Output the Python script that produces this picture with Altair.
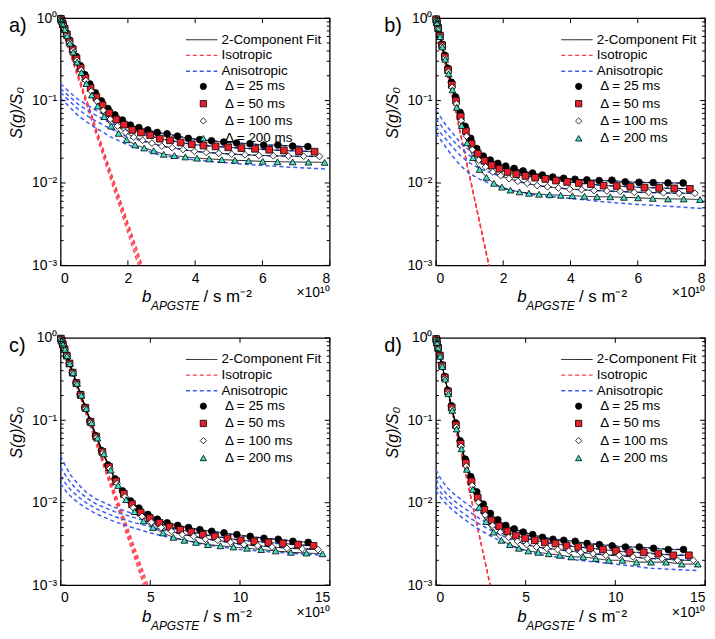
import altair as alt
import pandas as pd

FONT = "Liberation Sans"
RED = "#ff3a4a"
BLUE = "#3a5cf5"
W, H = 271, 249

DELTAS = [25, 50, 100, 200]
DLABELS = ["Δ = 25 ms", "Δ = 50 ms", "Δ = 100 ms", "Δ = 200 ms"]
KINDS = ["2-Component Fit", "Isotropic", "Anisotropic"]
FILLS = ["black", "#e8202a", "white", "#40e0c8"]
SHAPES = ["circle", "square", "diamond", "triangle-up"]

# b values (x 1e10 s m^-2), panels a/b
B_AB_25 = [0.007, 0.029, 0.065, 0.115, 0.179, 0.258, 0.352, 0.459, 0.581, 0.718, 0.868, 1.034, 1.213, 1.407, 1.615, 1.838, 2.074, 2.326, 2.591, 2.871, 3.165, 3.474, 3.797, 4.134, 4.486, 4.852, 5.233, 5.627, 6.036, 6.460, 6.898, 7.350]
B_AB_50 = [0.007, 0.030, 0.066, 0.118, 0.184, 0.265, 0.361, 0.472, 0.597, 0.737, 0.892, 1.062, 1.246, 1.445, 1.659, 1.888, 2.131, 2.389, 2.662, 2.949, 3.252, 3.569, 3.900, 4.247, 4.608, 4.984, 5.375, 5.781, 6.201, 6.636, 7.086, 7.550]
B_AB_100 = [0.008, 0.030, 0.068, 0.120, 0.188, 0.271, 0.369, 0.481, 0.609, 0.752, 0.910, 1.083, 1.271, 1.474, 1.692, 1.925, 2.173, 2.436, 2.715, 3.008, 3.316, 3.640, 3.978, 4.331, 4.700, 5.083, 5.482, 5.895, 6.324, 6.768, 7.226, 7.700]
B_AB_200 = [0.008, 0.031, 0.069, 0.123, 0.192, 0.276, 0.376, 0.491, 0.621, 0.767, 0.928, 1.104, 1.296, 1.503, 1.725, 1.963, 2.216, 2.484, 2.767, 3.066, 3.381, 3.710, 4.055, 4.416, 4.791, 5.182, 5.589, 6.010, 6.447, 6.899, 7.367, 7.850]
# panels c/d
B_CD_25 = [0.013, 0.054, 0.121, 0.216, 0.337, 0.485, 0.660, 0.863, 1.092, 1.348, 1.631, 1.941, 2.278, 2.641, 3.032, 3.450, 3.895, 4.366, 4.865, 5.391, 5.943, 6.523, 7.129, 7.763, 8.423, 9.110, 9.824, 10.566, 11.334, 12.129, 12.951, 13.800]
B_CD_50 = [0.014, 0.055, 0.124, 0.220, 0.344, 0.496, 0.675, 0.881, 1.115, 1.377, 1.666, 1.983, 2.327, 2.699, 3.098, 3.525, 3.979, 4.461, 4.971, 5.508, 6.072, 6.665, 7.284, 7.931, 8.606, 9.308, 10.038, 10.795, 11.580, 12.393, 13.233, 14.100]
B_CD_100 = [0.014, 0.056, 0.126, 0.224, 0.350, 0.505, 0.687, 0.897, 1.135, 1.401, 1.696, 2.018, 2.368, 2.747, 3.153, 3.588, 4.050, 4.540, 5.059, 5.606, 6.180, 6.783, 7.413, 8.072, 8.759, 9.473, 10.216, 10.987, 11.786, 12.612, 13.467, 14.350]
B_CD_200 = [0.014, 0.057, 0.128, 0.228, 0.356, 0.513, 0.699, 0.913, 1.155, 1.426, 1.725, 2.053, 2.410, 2.795, 3.208, 3.650, 4.121, 4.620, 5.147, 5.703, 6.288, 6.901, 7.542, 8.213, 8.911, 9.638, 10.394, 11.178, 11.991, 12.832, 13.702, 14.600]

# S(g)/S0 measured points
S_A_25 = [0.993, 0.941, 0.861, 0.762, 0.654, 0.543, 0.436, 0.343, 0.266, 0.206, 0.159, 0.124, 0.099, 0.080, 0.067, 0.058, 0.0505, 0.047, 0.044, 0.041, 0.0395, 0.037, 0.0348, 0.0336, 0.0325, 0.0314, 0.0305, 0.0300, 0.0288, 0.0289, 0.028, 0.0277]
S_A_50 = [0.981, 0.928, 0.847, 0.746, 0.635, 0.523, 0.418, 0.324, 0.249, 0.189, 0.142, 0.110, 0.088, 0.071, 0.059, 0.051, 0.044, 0.041, 0.038, 0.0345, 0.033, 0.031, 0.0295, 0.0285, 0.0278, 0.0271, 0.0265, 0.026, 0.0253, 0.0248, 0.0244, 0.024]
S_A_100 = [0.980, 0.926, 0.842, 0.738, 0.624, 0.509, 0.403, 0.308, 0.234, 0.175, 0.130, 0.098, 0.076, 0.0595, 0.049, 0.041, 0.036, 0.033, 0.0304, 0.028, 0.0268, 0.0255, 0.0242, 0.0235, 0.0229, 0.0224, 0.022, 0.0216, 0.0214, 0.0212, 0.0211, 0.021]
S_A_200 = [0.980, 0.923, 0.836, 0.729, 0.612, 0.496, 0.387, 0.293, 0.219, 0.161, 0.117, 0.086, 0.064, 0.049, 0.040, 0.0334, 0.029, 0.0266, 0.0246, 0.0223, 0.0215, 0.0207, 0.0200, 0.0196, 0.0192, 0.0189, 0.0186, 0.0183, 0.0181, 0.0180, 0.0179, 0.0178]

S_B_25 = [0.971, 0.888, 0.767, 0.625, 0.484, 0.355, 0.247, 0.167, 0.111, 0.0717, 0.0487, 0.0348, 0.0262, 0.0212, 0.019, 0.0173, 0.0160, 0.0150, 0.0140, 0.0132, 0.0125, 0.0118, 0.0114, 0.0111, 0.0109, 0.0107, 0.0108, 0.0103, 0.0102, 0.0101, 0.0100, 0.0100]
S_B_50 = [0.970, 0.885, 0.760, 0.614, 0.470, 0.339, 0.234, 0.155, 0.100, 0.0643, 0.0427, 0.0300, 0.0227, 0.0186, 0.0164, 0.0149, 0.0136, 0.0128, 0.0122, 0.0116, 0.0112, 0.0107, 0.0103, 0.0100, 0.0097, 0.0093, 0.0092, 0.0090, 0.0088, 0.0087, 0.0086, 0.0085]
S_B_100 = [0.969, 0.882, 0.754, 0.606, 0.459, 0.328, 0.223, 0.145, 0.0915, 0.0571, 0.0369, 0.0254, 0.0190, 0.0157, 0.0136, 0.0123, 0.0113, 0.0105, 0.0099, 0.0093, 0.0090, 0.0087, 0.0084, 0.0083, 0.0081, 0.0080, 0.0079, 0.0077, 0.0077, 0.0076, 0.0075, 0.0075]
S_B_200 = [0.968, 0.879, 0.748, 0.597, 0.448, 0.317, 0.212, 0.135, 0.0829, 0.0499, 0.0307, 0.0203, 0.0146, 0.0117, 0.0099, 0.0089, 0.0082, 0.0078, 0.0075, 0.0073, 0.0072, 0.0071, 0.0070, 0.0069, 0.0068, 0.0068, 0.0067, 0.0066, 0.0065, 0.0064, 0.0064, 0.0063]

S_C_25 = [0.980, 0.924, 0.837, 0.729, 0.610, 0.492, 0.381, 0.285, 0.206, 0.144, 0.0979, 0.0651, 0.0430, 0.0287, 0.0194, 0.0139, 0.0105, 0.0086, 0.0072, 0.0063, 0.0057, 0.0053, 0.0050, 0.0047, 0.0045, 0.0043, 0.0041, 0.0039, 0.0037, 0.0036, 0.0034, 0.0033]
S_C_50 = [0.980, 0.924, 0.836, 0.728, 0.609, 0.490, 0.379, 0.283, 0.204, 0.142, 0.0958, 0.0633, 0.0414, 0.0271, 0.0182, 0.0128, 0.0096, 0.0076, 0.0065, 0.0057, 0.0051, 0.0047, 0.0044, 0.0041, 0.0039, 0.0037, 0.0035, 0.0034, 0.0033, 0.0032, 0.0031, 0.0030]
S_C_100 = [0.980, 0.923, 0.835, 0.727, 0.608, 0.489, 0.378, 0.281, 0.202, 0.140, 0.0945, 0.0620, 0.0402, 0.0260, 0.0171, 0.0118, 0.0087, 0.0068, 0.0058, 0.0050, 0.0045, 0.0041, 0.0039, 0.0036, 0.0035, 0.0033, 0.0031, 0.0030, 0.0029, 0.0028, 0.00275, 0.0027]
S_C_200 = [0.980, 0.923, 0.836, 0.727, 0.607, 0.488, 0.377, 0.280, 0.201, 0.139, 0.0933, 0.0609, 0.0391, 0.0249, 0.0162, 0.0109, 0.0078, 0.0060, 0.0050, 0.0043, 0.0038, 0.0035, 0.0033, 0.0031, 0.0030, 0.0029, 0.0028, 0.0027, 0.0026, 0.0025, 0.00245, 0.0024]

S_D_25 = [0.970, 0.886, 0.762, 0.617, 0.471, 0.339, 0.231, 0.150, 0.0933, 0.0564, 0.0338, 0.0207, 0.0135, 0.0096, 0.0074, 0.0062, 0.0053, 0.0048, 0.0044, 0.0041, 0.0038, 0.0036, 0.0035, 0.0034, 0.0032, 0.0031, 0.0030, 0.0029, 0.0029, 0.0028, 0.0027, 0.0027]
S_D_50 = [0.969, 0.884, 0.757, 0.610, 0.462, 0.331, 0.223, 0.143, 0.0874, 0.0518, 0.0304, 0.0182, 0.0115, 0.0082, 0.0061, 0.0052, 0.0045, 0.0040, 0.0037, 0.0035, 0.0033, 0.0032, 0.0030, 0.0029, 0.0028, 0.0027, 0.0026, 0.0025, 0.0025, 0.0024, 0.0023, 0.0023]
S_D_100 = [0.969, 0.882, 0.753, 0.604, 0.455, 0.323, 0.216, 0.137, 0.0827, 0.0482, 0.0277, 0.0162, 0.0101, 0.0071, 0.0053, 0.0044, 0.0038, 0.0034, 0.0031, 0.0029, 0.0028, 0.0027, 0.0026, 0.0025, 0.0024, 0.0023, 0.0023, 0.0022, 0.0021, 0.0021, 0.0020, 0.0020]
S_D_200 = [0.968, 0.880, 0.749, 0.598, 0.449, 0.316, 0.210, 0.132, 0.0784, 0.0451, 0.0254, 0.0145, 0.0088, 0.0059, 0.0044, 0.0035, 0.0031, 0.0028, 0.0026, 0.0025, 0.0024, 0.0023, 0.0022, 0.0022, 0.0021, 0.0020, 0.0020, 0.0019, 0.0019, 0.0019, 0.0018, 0.0018]

# Isotropic component: start value at b=0 and b where it reaches 1e-3
ISO_F_A = [0.84, 0.86, 0.875, 0.893]
ISO_END_A = [2.31, 2.36, 2.40, 2.43]
ISO_F_B = [0.924, 0.94, 0.952, 0.96]
ISO_END_B = [1.57, 1.57, 1.58, 1.58]
ISO_F_C = [0.963, 0.973, 0.979, 0.983]
ISO_END_C = [4.63, 4.71, 4.79, 4.87]
ISO_F_D = [0.975, 0.981, 0.984, 0.986]
ISO_END_D = [3.02, 3.02, 3.03, 3.03]

# Anisotropic component
AN_END_AB = [7.35, 7.55, 7.70, 7.90]
AN_END_CD = [13.8, 14.1, 14.35, 14.6]
AN_X_A = [0, 0.25, 0.5, 0.75, 1, 1.5, 2, 3, 4, 5, 6, 7]
AN_A_25 = [0.160, 0.128, 0.105, 0.090, 0.078, 0.061, 0.049, 0.040, 0.034, 0.031, 0.029, 0.028, 0.0275]
AN_A_50 = [0.140, 0.113, 0.092, 0.078, 0.068, 0.053, 0.043, 0.034, 0.029, 0.027, 0.0255, 0.0245, 0.024]
AN_A_100 = [0.125, 0.100, 0.080, 0.067, 0.058, 0.045, 0.036, 0.028, 0.024, 0.0225, 0.0215, 0.0211, 0.021]
AN_A_200 = [0.107, 0.085, 0.067, 0.056, 0.048, 0.036, 0.029, 0.0215, 0.0190, 0.0175, 0.0163, 0.0154, 0.0148]
AN_X_B = [0, 0.15, 0.3, 0.5, 0.75, 1, 1.33, 1.7, 2, 2.5, 3, 4, 5, 6, 7]
AN_B_25 = [0.076, 0.062, 0.050, 0.040, 0.030, 0.025, 0.020, 0.0175, 0.0163, 0.0143, 0.0128, 0.0112, 0.0106, 0.0102, 0.0100, 0.0100]
AN_B_50 = [0.060, 0.050, 0.041, 0.033, 0.026, 0.0215, 0.0177, 0.0155, 0.0140, 0.0125, 0.0115, 0.0102, 0.0093, 0.0089, 0.0086, 0.0085]
AN_B_100 = [0.048, 0.040, 0.034, 0.027, 0.021, 0.0175, 0.0148, 0.0130, 0.0118, 0.0103, 0.0093, 0.0084, 0.0080, 0.0077, 0.0075, 0.0075]
AN_B_200 = [0.040, 0.033, 0.027, 0.021, 0.016, 0.013, 0.011, 0.0095, 0.0086, 0.0077, 0.0071, 0.0065, 0.0059, 0.0055, 0.0052, 0.0049]
AN_X_C = [0, 0.3, 0.6, 1, 1.5, 2, 3, 4, 5, 6, 7, 8, 10, 12]
AN_C_25 = [0.037, 0.027, 0.021, 0.0165, 0.0130, 0.0110, 0.0088, 0.0074, 0.0064, 0.0056, 0.0050, 0.0046, 0.0040, 0.0036, 0.0033]
AN_C_50 = [0.027, 0.021, 0.017, 0.0138, 0.0112, 0.0096, 0.0078, 0.0067, 0.0058, 0.0050, 0.0045, 0.0041, 0.0035, 0.0032, 0.0030]
AN_C_100 = [0.021, 0.0168, 0.0140, 0.0117, 0.0097, 0.0084, 0.0068, 0.0058, 0.0051, 0.0045, 0.0041, 0.0037, 0.0031, 0.0029, 0.0027]
AN_C_200 = [0.017, 0.0138, 0.0117, 0.0099, 0.0084, 0.0073, 0.0059, 0.0050, 0.0043, 0.0038, 0.0035, 0.0031, 0.0027, 0.0025, 0.0023]
AN_X_D = [0, 0.3, 0.6, 1, 1.5, 2, 2.5, 3, 4, 5, 6, 8, 10, 12]
AN_D_25 = [0.025, 0.019, 0.0155, 0.0128, 0.0105, 0.0088, 0.0075, 0.0065, 0.0051, 0.0043, 0.0038, 0.0033, 0.0030, 0.0028, 0.0027]
AN_D_50 = [0.019, 0.0153, 0.0128, 0.0106, 0.0088, 0.0074, 0.0063, 0.0055, 0.0043, 0.0037, 0.0033, 0.0029, 0.0026, 0.0024, 0.0023]
AN_D_100 = [0.016, 0.0130, 0.0110, 0.0091, 0.0075, 0.0063, 0.0054, 0.0047, 0.0037, 0.0031, 0.0028, 0.0025, 0.0023, 0.0021, 0.0020]
AN_D_200 = [0.014, 0.0113, 0.0095, 0.0079, 0.0065, 0.0054, 0.0046, 0.0040, 0.0031, 0.0026, 0.0023, 0.0020, 0.0018, 0.0016, 0.0015]

XT_AB = [0, 2, 4, 6, 8]
XT_CD = [0, 5, 10, 15]
Y_MAJOR = [0.001, 0.01, 0.1, 1]
Y_MINOR = [0.002, 0.003, 0.004, 0.005, 0.006, 0.007, 0.008, 0.009,
           0.02, 0.03, 0.04, 0.05, 0.06, 0.07, 0.08, 0.09,
           0.2, 0.3, 0.4, 0.5, 0.6, 0.7, 0.8, 0.9]

LEG_LINES = alt.Legend(title=None, orient="none", legendX=125, legendY=15, symbolType="stroke",
                       symbolSize=1000, symbolStrokeWidth=1.3, labelFont=FONT, labelFontSize=13.5,
                       labelColor="black", labelOffset=3, rowPadding=0.8, clipHeight=13.5, padding=0)
LEG_PTS = alt.Legend(title=None, orient="none", legendX=137, legendY=62, symbolSize=40,
                     symbolStrokeWidth=0.8, labelFont=FONT, labelFontSize=13.5,
                     labelColor="black", labelOffset=15, rowPadding=2.4, clipHeight=13.5, padding=0)


def text_layer(txt, x, y, size, style="normal", align="left", baseline="alphabetic"):
    return alt.Chart(pd.DataFrame({"t": [txt]})).mark_text(
        font=FONT, fontSize=size, fontStyle=style, align=align, baseline=baseline, color="black"
    ).encode(text="t:N", x=alt.value(x), y=alt.value(y))


def panel(letter, grids, svals, iso_f, iso_end, an_x, an_end, an_vals, xmax, xticks):
    pts = []
    for lab, g, s in zip(DLABELS, grids, svals):
        for bb, ss in zip(g, s):
            pts.append({"b": bb, "s": ss, "dl": lab, "kind": KINDS[0]})
    dfp = pd.DataFrame(pts)
    ln = []
    for d, f, e in zip(DELTAS, iso_f, iso_end):
        ln.append({"b": 0.0, "s": f, "kind": "Isotropic", "delta": d})
        ln.append({"b": e, "s": 0.001, "kind": "Isotropic", "delta": d})
    for d, e, v in zip(DELTAS, an_end, an_vals):
        for bb, ss in zip(an_x + [e], v):
            ln.append({"b": bb, "s": ss, "kind": "Anisotropic", "delta": d})
    dfl = pd.DataFrame(ln)

    xs = alt.Scale(domain=[0, xmax], nice=False, zero=False)
    ys = alt.Scale(type="log", domain=[0.001, 1], nice=False)
    xax = alt.Axis(values=xticks, ticks=False, domain=False, grid=False, labelFont=FONT,
                   labelFontSize=14, labelColor="black", labelPadding=6, title=None)
    yax = alt.Axis(values=Y_MAJOR, ticks=False, domain=False, grid=False, labelFont=FONT,
                   labelFontSize=14, labelColor="black", labelPadding=4,
                   labelExpr="datum.value >= 0.5 ? '10⁰' : datum.value >= 0.05 ? '10⁻¹' : datum.value >= 0.005 ? '10⁻²' : '10⁻³'",
                   title="S(g)/S₀", titleFont=FONT, titleFontSize=16, titleFontStyle="italic",
                   titleFontWeight="normal", titleColor="black", titleX=-44, titleY=95,
                   titleAlign="center", titleBaseline="middle")
    X = alt.X("b:Q", scale=xs, axis=xax)
    Y = alt.Y("s:Q", scale=ys, axis=yax)
    col = alt.Color("kind:N", scale=alt.Scale(domain=KINDS, range=["black", RED, BLUE]), legend=LEG_LINES)
    dash = alt.StrokeDash("kind:N", scale=alt.Scale(domain=KINDS, range=[[1, 0], [4, 3], [4, 3]]), legend=LEG_LINES)
    sw = alt.StrokeWidth("kind:N", scale=alt.Scale(domain=KINDS, range=[0.9, 1.5, 1.0]), legend=None)

    comp = alt.Chart(dfl).mark_line().encode(x=X, y=Y, color=col, strokeDash=dash, strokeWidth=sw, detail="delta:N")
    fit = alt.Chart(dfp).mark_line().encode(x=X, y=Y, color=col, strokeDash=dash, strokeWidth=sw, detail="dl:N")
    points = alt.Chart(dfp).mark_point(filled=True, strokeWidth=0.8, size=46, opacity=1).encode(
        x=X, y=Y,
        fill=alt.Fill("dl:N", scale=alt.Scale(domain=DLABELS, range=FILLS), legend=LEG_PTS),
        shape=alt.Shape("dl:N", scale=alt.Scale(domain=DLABELS, range=SHAPES), legend=LEG_PTS),
        stroke=alt.Stroke("dl:N", scale=alt.Scale(domain=DLABELS, range=["black"] * 4), legend=LEG_PTS),
    )
    xt = pd.DataFrame({"v": xticks})
    ymaj = pd.DataFrame({"v": Y_MAJOR})
    ymin = pd.DataFrame({"v": Y_MINOR})
    XV = alt.X("v:Q", scale=xs, axis=xax)
    YV = alt.Y("v:Q", scale=ys, axis=yax)
    tk = []
    tk.append(alt.Chart(xt).mark_rule(color="black").encode(x=XV, y=alt.value(0), y2=alt.value(5)))
    tk.append(alt.Chart(xt).mark_rule(color="black").encode(x=XV, y=alt.value(H - 5), y2=alt.value(H)))
    tk.append(alt.Chart(ymaj).mark_rule(color="black").encode(y=YV, x=alt.value(0), x2=alt.value(5)))
    tk.append(alt.Chart(ymaj).mark_rule(color="black").encode(y=YV, x=alt.value(W - 5), x2=alt.value(W)))
    tk.append(alt.Chart(ymin).mark_rule(color="black").encode(y=YV, x=alt.value(0), x2=alt.value(3)))
    tk.append(alt.Chart(ymin).mark_rule(color="black").encode(y=YV, x=alt.value(W - 3), x2=alt.value(W)))

    texts = [
        text_layer(letter, -52, 8, 20, baseline="middle"),
        text_layer("b", 82, H + 37, 17, style="italic"),
        text_layer("APGSTE", 91, H + 45, 12, style="italic"),
        text_layer("/ s m⁻²", 144, H + 37, 17),
        text_layer("×10¹⁰", W, H + 32, 14, align="right"),
    ]
    return alt.layer(comp, fit, points, *tk, *texts).properties(width=W, height=H)


pa = panel("a)", [B_AB_25, B_AB_50, B_AB_100, B_AB_200], [S_A_25, S_A_50, S_A_100, S_A_200],
           ISO_F_A, ISO_END_A, AN_X_A, AN_END_AB, [AN_A_25, AN_A_50, AN_A_100, AN_A_200], 8, XT_AB)
pb = panel("b)", [B_AB_25, B_AB_50, B_AB_100, B_AB_200], [S_B_25, S_B_50, S_B_100, S_B_200],
           ISO_F_B, ISO_END_B, AN_X_B, AN_END_AB, [AN_B_25, AN_B_50, AN_B_100, AN_B_200], 8, XT_AB)
pc = panel("c)", [B_CD_25, B_CD_50, B_CD_100, B_CD_200], [S_C_25, S_C_50, S_C_100, S_C_200],
           ISO_F_C, ISO_END_C, AN_X_C, AN_END_CD, [AN_C_25, AN_C_50, AN_C_100, AN_C_200], 15, XT_CD)
pd_ = panel("d)", [B_CD_25, B_CD_50, B_CD_100, B_CD_200], [S_D_25, S_D_50, S_D_100, S_D_200],
            ISO_F_D, ISO_END_D, AN_X_D, AN_END_CD, [AN_D_25, AN_D_50, AN_D_100, AN_D_200], 15, XT_CD)

chart = alt.concat(pa, pb, pc, pd_, columns=2, spacing={"row": 17, "column": 52}).resolve_scale(
    color="independent", strokeDash="independent", strokeWidth="independent",
    fill="independent", shape="independent", stroke="independent",
    x="independent", y="independent"
).properties(padding=0, background="white").configure_view(stroke="black", strokeWidth=1.3)

chart.save("out.html", embed_options={"renderer": "svg", "actions": False})
